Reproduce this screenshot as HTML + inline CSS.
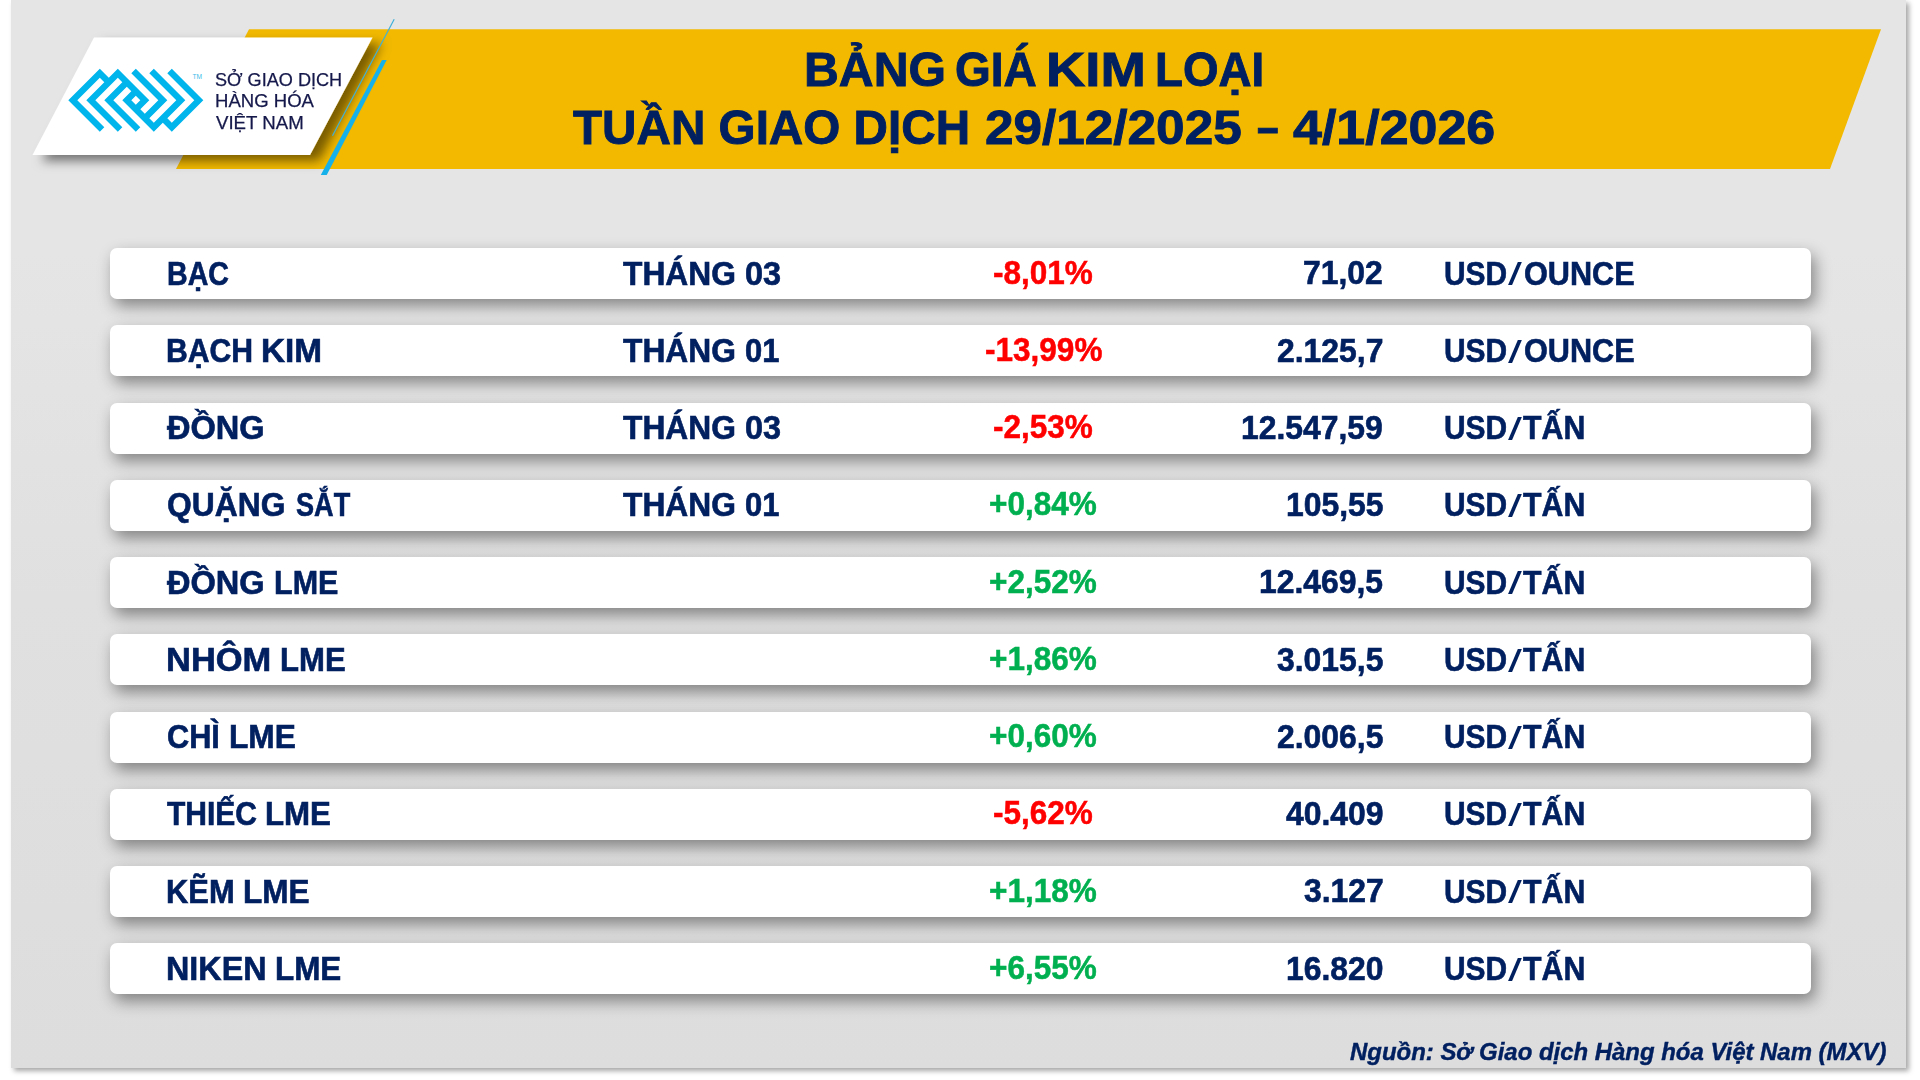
<!DOCTYPE html>
<html><head><meta charset="utf-8"><style>
html,body{margin:0;padding:0;width:1920px;height:1080px;overflow:hidden;background:#ffffff;}
.panel{position:absolute;left:11.3px;top:0;width:1894.7px;height:1067.7px;background:linear-gradient(#e5e5e5 0px,#e5e5e5 250px,#e0e0e0 600px,#dddddd 1067px);box-shadow:3px 3px 5px rgba(0,0,0,0.35);}
.row{position:absolute;left:109.5px;width:1701px;height:51px;background:#fff;border-radius:7px;box-shadow:4px 7px 16px rgba(0,0,0,0.42);}
svg{position:absolute;left:0;top:0;}
.t{position:absolute;white-space:nowrap;line-height:1;transform-origin:0 0;font-family:"Liberation Sans",sans-serif;}
.b{font-weight:bold}
.i{font-style:italic}
</style></head><body>
<div class="panel"></div>
<svg width="1920" height="260" viewBox="0 0 1920 260">
<defs><filter id="sh" x="-20%" y="-20%" width="140%" height="160%"><feDropShadow dx="9" dy="6" stdDeviation="5.5" flood-color="#000" flood-opacity="0.5"/></filter></defs>
<polygon points="249,29.3 1881,29.3 1830,169.1 176,169.1" fill="#f2b900"/>
<polygon points="94,37.5 372.5,37.5 310,155 32.5,155" fill="#fff" filter="url(#sh)"/>
<line x1="394.2" y1="19.2" x2="332.5" y2="135.8" stroke="#3fb0d8" stroke-width="1.2"/>
<polygon points="382,60 386.7,60 326.7,175 320.8,175" fill="#16b0ea"/>
<g fill="#00b4ec"><path fill-rule="evenodd" d="M99.80,68.80 L104.30,73.30 L108.80,77.80 L113.30,73.30 L117.80,68.80 L122.30,73.30 L144.80,95.80 L149.30,100.30 L144.80,104.80 L140.30,109.30 L144.80,113.80 L158.30,100.30 L131.30,73.30 L135.80,68.80 L162.80,95.80 L167.30,100.30 L162.80,104.80 L149.30,118.30 L153.80,122.80 L176.30,100.30 L149.30,73.30 L153.80,68.80 L180.80,95.80 L185.30,100.30 L180.80,104.80 L167.30,118.30 L171.80,122.80 L194.30,100.30 L167.30,73.30 L171.80,68.80 L198.80,95.80 L203.30,100.30 L198.80,104.80 L176.30,127.30 L171.80,131.80 L167.30,127.30 L162.80,122.80 L158.30,127.30 L153.80,131.80 L149.30,127.30 L144.80,122.80 L140.30,118.30 L126.80,104.80 L122.30,100.30 L126.80,95.80 L131.30,91.30 L126.80,86.80 L113.30,100.30 L140.30,127.30 L135.80,131.80 L108.80,104.80 L104.30,100.30 L108.80,95.80 L122.30,82.30 L117.80,77.80 L95.30,100.30 L122.30,127.30 L117.80,131.80 L90.80,104.80 L86.30,100.30 L90.80,95.80 L104.30,82.30 L99.80,77.80 L77.30,100.30 L104.30,127.30 L99.80,131.80 L72.80,104.80 L68.30,100.30 L72.80,95.80 L95.30,73.30Z M135.80,95.80 L131.30,100.30 L135.80,104.80 L140.30,100.30Z "/></g>
<text x="192.6" y="78.6" font-family="Liberation Sans" font-size="6.6" fill="#3bbbe8">TM</text>
</svg>
<div class="row" style="top:248.00px"></div>
<div class="row" style="top:325.25px"></div>
<div class="row" style="top:402.50px"></div>
<div class="row" style="top:479.75px"></div>
<div class="row" style="top:557.00px"></div>
<div class="row" style="top:634.25px"></div>
<div class="row" style="top:711.50px"></div>
<div class="row" style="top:788.75px"></div>
<div class="row" style="top:866.00px"></div>
<div class="row" style="top:943.25px"></div>
<div class="t b" style="left:803.54px;top:45.48px;font-size:48.110px;color:#002060;transform:scaleX(1.0022);-webkit-text-stroke:0.90px #002060">BẢNG</div>
<div class="t b" style="left:954.91px;top:45.48px;font-size:48.110px;color:#002060;transform:scaleX(0.9565);-webkit-text-stroke:0.90px #002060">GIÁ</div>
<div class="t b" style="left:1046.05px;top:45.48px;font-size:48.110px;color:#002060;transform:scaleX(1.1319);-webkit-text-stroke:0.90px #002060">KIM</div>
<div class="t b" style="left:1155.09px;top:45.48px;font-size:48.110px;color:#002060;transform:scaleX(0.9498);-webkit-text-stroke:0.90px #002060">LOẠI</div>
<div class="t b" style="left:573.25px;top:103.21px;font-size:48.110px;color:#002060;transform:scaleX(0.9904);-webkit-text-stroke:0.90px #002060">TUẦN GIAO DỊCH</div>
<div class="t b" style="left:984.65px;top:103.21px;font-size:48.110px;color:#002060;transform:scaleX(1.0660);-webkit-text-stroke:0.90px #002060">29/12/2025</div>
<div class="t b" style="left:1257.24px;top:103.21px;font-size:48.110px;color:#002060;transform:scaleX(0.8062);-webkit-text-stroke:0.90px #002060">–</div>
<div class="t b" style="left:1293.05px;top:103.21px;font-size:48.110px;color:#002060;transform:scaleX(1.0797);-webkit-text-stroke:0.90px #002060">4/1/2026</div>
<div class="t" style="left:215.36px;top:71.43px;font-size:18.532px;color:#15184a;transform:scaleX(0.9774);-webkit-text-stroke:0.25px #15184a">SỞ GIAO DỊCH</div>
<div class="t" style="left:215.37px;top:92.88px;font-size:17.951px;color:#15184a;transform:scaleX(1.0341);-webkit-text-stroke:0.25px #15184a">HÀNG HÓA</div>
<div class="t" style="left:216.38px;top:113.93px;font-size:18.241px;color:#15184a;transform:scaleX(1.0222);-webkit-text-stroke:0.25px #15184a">VIỆT NAM</div>
<div class="t b" style="left:166.51px;top:257.63px;font-size:32.558px;color:#002060;transform:scaleX(0.8780);-webkit-text-stroke:0.60px #002060">BẠC</div>
<div class="t b" style="left:622.60px;top:257.63px;font-size:32.558px;color:#002060;transform:scaleX(0.9760);-webkit-text-stroke:0.60px #002060">THÁNG</div>
<div class="t b" style="left:744.69px;top:257.63px;font-size:32.558px;color:#002060;transform:scaleX(0.9975);-webkit-text-stroke:0.60px #002060">03</div>
<div class="t b" style="left:993.36px;top:255.74px;font-size:33.668px;color:#ff0000;transform:scaleX(0.9368);-webkit-text-stroke:0.50px #ff0000">-8,01%</div>
<div class="t b" style="left:1303.48px;top:256.46px;font-size:33.238px;color:#002060;transform:scaleX(0.9596);-webkit-text-stroke:0.60px #002060">71,02</div>
<div class="t b" style="left:1444.40px;top:257.63px;font-size:32.558px;color:#002060;transform:scaleX(0.9185);-webkit-text-stroke:0.60px #002060">USD</div>
<div class="t b" style="left:1523.84px;top:257.63px;font-size:32.558px;color:#002060;transform:scaleX(0.9412);-webkit-text-stroke:0.60px #002060">OUNCE</div>
<div class="t b" style="left:166.41px;top:334.88px;font-size:32.558px;color:#002060;transform:scaleX(0.9269);-webkit-text-stroke:0.60px #002060">BẠCH</div>
<div class="t b" style="left:261.32px;top:334.88px;font-size:32.558px;color:#002060;transform:scaleX(1.0240);-webkit-text-stroke:0.60px #002060">KIM</div>
<div class="t b" style="left:622.60px;top:334.88px;font-size:32.558px;color:#002060;transform:scaleX(0.9760);-webkit-text-stroke:0.60px #002060">THÁNG</div>
<div class="t b" style="left:744.73px;top:334.88px;font-size:32.558px;color:#002060;transform:scaleX(0.9510);-webkit-text-stroke:0.60px #002060">01</div>
<div class="t b" style="left:984.59px;top:332.99px;font-size:33.668px;color:#ff0000;transform:scaleX(0.9368);-webkit-text-stroke:0.50px #ff0000">-13,99%</div>
<div class="t b" style="left:1277.38px;top:333.71px;font-size:33.238px;color:#002060;transform:scaleX(0.9596);-webkit-text-stroke:0.60px #002060">2.125,7</div>
<div class="t b" style="left:1444.40px;top:334.88px;font-size:32.558px;color:#002060;transform:scaleX(0.9185);-webkit-text-stroke:0.60px #002060">USD</div>
<div class="t b" style="left:1523.84px;top:334.88px;font-size:32.558px;color:#002060;transform:scaleX(0.9412);-webkit-text-stroke:0.60px #002060">OUNCE</div>
<div class="t b" style="left:166.90px;top:412.13px;font-size:32.558px;color:#002060;transform:scaleX(1.0005);-webkit-text-stroke:0.60px #002060">ĐỒNG</div>
<div class="t b" style="left:622.60px;top:412.13px;font-size:32.558px;color:#002060;transform:scaleX(0.9760);-webkit-text-stroke:0.60px #002060">THÁNG</div>
<div class="t b" style="left:744.69px;top:412.13px;font-size:32.558px;color:#002060;transform:scaleX(0.9975);-webkit-text-stroke:0.60px #002060">03</div>
<div class="t b" style="left:993.36px;top:410.24px;font-size:33.668px;color:#ff0000;transform:scaleX(0.9368);-webkit-text-stroke:0.50px #ff0000">-2,53%</div>
<div class="t b" style="left:1241.41px;top:410.96px;font-size:33.238px;color:#002060;transform:scaleX(0.9596);-webkit-text-stroke:0.60px #002060">12.547,59</div>
<div class="t b" style="left:1444.40px;top:412.13px;font-size:32.558px;color:#002060;transform:scaleX(0.9185);-webkit-text-stroke:0.60px #002060">USD</div>
<div class="t b" style="left:1523.10px;top:412.13px;font-size:32.558px;color:#002060;transform:scaleX(0.9310);-webkit-text-stroke:0.60px #002060">TẤN</div>
<div class="t b" style="left:167.30px;top:489.38px;font-size:32.558px;color:#002060;transform:scaleX(0.9780);-webkit-text-stroke:0.60px #002060">QUẶNG</div>
<div class="t b" style="left:295.78px;top:489.38px;font-size:32.558px;color:#002060;transform:scaleX(0.8333);-webkit-text-stroke:0.60px #002060">SẮT</div>
<div class="t b" style="left:622.60px;top:489.38px;font-size:32.558px;color:#002060;transform:scaleX(0.9760);-webkit-text-stroke:0.60px #002060">THÁNG</div>
<div class="t b" style="left:744.73px;top:489.38px;font-size:32.558px;color:#002060;transform:scaleX(0.9510);-webkit-text-stroke:0.60px #002060">01</div>
<div class="t b" style="left:989.41px;top:487.49px;font-size:33.668px;color:#00b050;transform:scaleX(0.9368);-webkit-text-stroke:0.50px #00b050">+0,84%</div>
<div class="t b" style="left:1285.74px;top:488.21px;font-size:33.238px;color:#002060;transform:scaleX(0.9596);-webkit-text-stroke:0.60px #002060">105,55</div>
<div class="t b" style="left:1444.40px;top:489.38px;font-size:32.558px;color:#002060;transform:scaleX(0.9185);-webkit-text-stroke:0.60px #002060">USD</div>
<div class="t b" style="left:1523.10px;top:489.38px;font-size:32.558px;color:#002060;transform:scaleX(0.9310);-webkit-text-stroke:0.60px #002060">TẤN</div>
<div class="t b" style="left:166.90px;top:566.63px;font-size:32.558px;color:#002060;transform:scaleX(1.0005);-webkit-text-stroke:0.60px #002060">ĐỒNG</div>
<div class="t b" style="left:273.79px;top:566.63px;font-size:32.558px;color:#002060;transform:scaleX(0.9372);-webkit-text-stroke:0.60px #002060">LME</div>
<div class="t b" style="left:989.41px;top:564.74px;font-size:33.668px;color:#00b050;transform:scaleX(0.9368);-webkit-text-stroke:0.50px #00b050">+2,52%</div>
<div class="t b" style="left:1259.14px;top:565.46px;font-size:33.238px;color:#002060;transform:scaleX(0.9596);-webkit-text-stroke:0.60px #002060">12.469,5</div>
<div class="t b" style="left:1444.40px;top:566.63px;font-size:32.558px;color:#002060;transform:scaleX(0.9185);-webkit-text-stroke:0.60px #002060">USD</div>
<div class="t b" style="left:1523.10px;top:566.63px;font-size:32.558px;color:#002060;transform:scaleX(0.9310);-webkit-text-stroke:0.60px #002060">TẤN</div>
<div class="t b" style="left:166.15px;top:643.88px;font-size:32.558px;color:#002060;transform:scaleX(1.0590);-webkit-text-stroke:0.60px #002060">NHÔM</div>
<div class="t b" style="left:280.06px;top:643.88px;font-size:32.558px;color:#002060;transform:scaleX(0.9555);-webkit-text-stroke:0.60px #002060">LME</div>
<div class="t b" style="left:989.41px;top:641.99px;font-size:33.668px;color:#00b050;transform:scaleX(0.9368);-webkit-text-stroke:0.50px #00b050">+1,86%</div>
<div class="t b" style="left:1276.88px;top:642.71px;font-size:33.238px;color:#002060;transform:scaleX(0.9596);-webkit-text-stroke:0.60px #002060">3.015,5</div>
<div class="t b" style="left:1444.40px;top:643.88px;font-size:32.558px;color:#002060;transform:scaleX(0.9185);-webkit-text-stroke:0.60px #002060">USD</div>
<div class="t b" style="left:1523.10px;top:643.88px;font-size:32.558px;color:#002060;transform:scaleX(0.9310);-webkit-text-stroke:0.60px #002060">TẤN</div>
<div class="t b" style="left:167.34px;top:721.13px;font-size:32.558px;color:#002060;transform:scaleX(0.9434);-webkit-text-stroke:0.60px #002060">CHÌ</div>
<div class="t b" style="left:229.12px;top:721.13px;font-size:32.558px;color:#002060;transform:scaleX(0.9737);-webkit-text-stroke:0.60px #002060">LME</div>
<div class="t b" style="left:989.41px;top:719.24px;font-size:33.668px;color:#00b050;transform:scaleX(0.9368);-webkit-text-stroke:0.50px #00b050">+0,60%</div>
<div class="t b" style="left:1276.88px;top:719.96px;font-size:33.238px;color:#002060;transform:scaleX(0.9596);-webkit-text-stroke:0.60px #002060">2.006,5</div>
<div class="t b" style="left:1444.40px;top:721.13px;font-size:32.558px;color:#002060;transform:scaleX(0.9185);-webkit-text-stroke:0.60px #002060">USD</div>
<div class="t b" style="left:1523.10px;top:721.13px;font-size:32.558px;color:#002060;transform:scaleX(0.9310);-webkit-text-stroke:0.60px #002060">TẤN</div>
<div class="t b" style="left:166.90px;top:798.38px;font-size:32.558px;color:#002060;transform:scaleX(0.9222);-webkit-text-stroke:0.60px #002060">THIẾC</div>
<div class="t b" style="left:265.35px;top:798.38px;font-size:32.558px;color:#002060;transform:scaleX(0.9600);-webkit-text-stroke:0.60px #002060">LME</div>
<div class="t b" style="left:993.36px;top:796.49px;font-size:33.668px;color:#ff0000;transform:scaleX(0.9368);-webkit-text-stroke:0.50px #ff0000">-5,62%</div>
<div class="t b" style="left:1285.74px;top:797.21px;font-size:33.238px;color:#002060;transform:scaleX(0.9596);-webkit-text-stroke:0.60px #002060">40.409</div>
<div class="t b" style="left:1444.40px;top:798.38px;font-size:32.558px;color:#002060;transform:scaleX(0.9185);-webkit-text-stroke:0.60px #002060">USD</div>
<div class="t b" style="left:1523.10px;top:798.38px;font-size:32.558px;color:#002060;transform:scaleX(0.9310);-webkit-text-stroke:0.60px #002060">TẤN</div>
<div class="t b" style="left:166.37px;top:875.63px;font-size:32.558px;color:#002060;transform:scaleX(0.9493);-webkit-text-stroke:0.60px #002060">KẼM</div>
<div class="t b" style="left:242.53px;top:875.63px;font-size:32.558px;color:#002060;transform:scaleX(0.9691);-webkit-text-stroke:0.60px #002060">LME</div>
<div class="t b" style="left:989.41px;top:873.74px;font-size:33.668px;color:#00b050;transform:scaleX(0.9368);-webkit-text-stroke:0.50px #00b050">+1,18%</div>
<div class="t b" style="left:1303.98px;top:874.46px;font-size:33.238px;color:#002060;transform:scaleX(0.9596);-webkit-text-stroke:0.60px #002060">3.127</div>
<div class="t b" style="left:1444.40px;top:875.63px;font-size:32.558px;color:#002060;transform:scaleX(0.9185);-webkit-text-stroke:0.60px #002060">USD</div>
<div class="t b" style="left:1523.10px;top:875.63px;font-size:32.558px;color:#002060;transform:scaleX(0.9310);-webkit-text-stroke:0.60px #002060">TẤN</div>
<div class="t b" style="left:166.28px;top:952.88px;font-size:32.558px;color:#002060;transform:scaleX(0.9926);-webkit-text-stroke:0.60px #002060">NIKEN</div>
<div class="t b" style="left:275.04px;top:952.88px;font-size:32.558px;color:#002060;transform:scaleX(0.9646);-webkit-text-stroke:0.60px #002060">LME</div>
<div class="t b" style="left:989.41px;top:950.99px;font-size:33.668px;color:#00b050;transform:scaleX(0.9368);-webkit-text-stroke:0.50px #00b050">+6,55%</div>
<div class="t b" style="left:1286.24px;top:951.71px;font-size:33.238px;color:#002060;transform:scaleX(0.9596);-webkit-text-stroke:0.60px #002060">16.820</div>
<div class="t b" style="left:1444.40px;top:952.88px;font-size:32.558px;color:#002060;transform:scaleX(0.9185);-webkit-text-stroke:0.60px #002060">USD</div>
<div class="t b" style="left:1523.10px;top:952.88px;font-size:32.558px;color:#002060;transform:scaleX(0.9310);-webkit-text-stroke:0.60px #002060">TẤN</div>
<div class="t b i" style="left:1349.68px;top:1040.42px;font-size:23.837px;color:#002060;transform:scaleX(1.0044);-webkit-text-stroke:0.40px #002060">Nguồn: Sở Giao dịch Hàng hóa Việt Nam (MXV)</div>
<div style="position:absolute;left:1508.3px;top:262.30px;width:4.2px;height:23.2px;background:#002060;transform-origin:0 100%;transform:skewX(-23deg)"></div><div style="position:absolute;left:1508.3px;top:339.55px;width:4.2px;height:23.2px;background:#002060;transform-origin:0 100%;transform:skewX(-23deg)"></div><div style="position:absolute;left:1508.3px;top:416.80px;width:4.2px;height:23.2px;background:#002060;transform-origin:0 100%;transform:skewX(-23deg)"></div><div style="position:absolute;left:1508.3px;top:494.05px;width:4.2px;height:23.2px;background:#002060;transform-origin:0 100%;transform:skewX(-23deg)"></div><div style="position:absolute;left:1508.3px;top:571.30px;width:4.2px;height:23.2px;background:#002060;transform-origin:0 100%;transform:skewX(-23deg)"></div><div style="position:absolute;left:1508.3px;top:648.55px;width:4.2px;height:23.2px;background:#002060;transform-origin:0 100%;transform:skewX(-23deg)"></div><div style="position:absolute;left:1508.3px;top:725.80px;width:4.2px;height:23.2px;background:#002060;transform-origin:0 100%;transform:skewX(-23deg)"></div><div style="position:absolute;left:1508.3px;top:803.05px;width:4.2px;height:23.2px;background:#002060;transform-origin:0 100%;transform:skewX(-23deg)"></div><div style="position:absolute;left:1508.3px;top:880.30px;width:4.2px;height:23.2px;background:#002060;transform-origin:0 100%;transform:skewX(-23deg)"></div><div style="position:absolute;left:1508.3px;top:957.55px;width:4.2px;height:23.2px;background:#002060;transform-origin:0 100%;transform:skewX(-23deg)"></div>
</body></html>
